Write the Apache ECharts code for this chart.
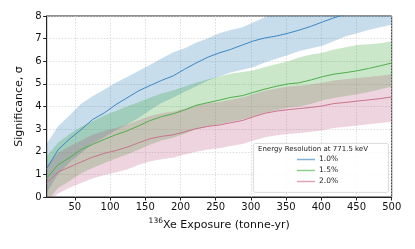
<!DOCTYPE html>
<html><head><meta charset="utf-8">
<script src="https://cdn.jsdelivr.net/npm/echarts@6/dist/echarts.min.js"></script>
<style>html,body{margin:0;padding:0;background:#fff}#c{width:415px;height:249px}</style>
</head><body><div id="c"></div>
<script>
const exposure = [10,26,43,59,75,92,108,124,141,157,173,190,206,222,239,255,271,288,304,320,337,353,369,386,402,418,435,451,467,484,500];
const xTicks = [50,100,150,200,250,300,350,400,450,500];
const yTicks = [0,1,2,3,4,5,6,7,8];
const seriesNames = ['1.0%','1.5%','2.0%'];
const sig10 = [1.25,2.08,2.58,2.98,3.42,3.72,4.08,4.38,4.70,4.93,5.15,5.36,5.65,5.92,6.18,6.37,6.52,6.72,6.90,7.03,7.12,7.24,7.38,7.55,7.74,7.92,8.08,8.25,8.45,8.62,8.80];
const up10  = [2.35,3.12,3.62,4.12,4.45,4.75,5.05,5.30,5.58,5.85,6.12,6.40,6.58,6.82,7.02,7.24,7.38,7.50,7.72,7.95,8.15,8.30,8.50,8.65,8.85,9.00,9.20,9.35,9.55,9.70,9.90];
const lo10  = [0.20,1.00,1.55,1.95,2.35,2.65,2.95,3.20,3.50,3.85,4.15,4.40,4.65,4.88,5.15,5.32,5.50,5.62,5.75,5.95,6.12,6.28,6.45,6.58,6.68,6.90,7.10,7.24,7.38,7.50,7.61];
const sig15 = [0.83,1.42,1.75,2.10,2.32,2.55,2.75,2.92,3.15,3.38,3.55,3.68,3.85,4.05,4.17,4.28,4.40,4.48,4.63,4.77,4.90,5.00,5.05,5.18,5.32,5.43,5.50,5.58,5.68,5.80,5.92];
const up15  = [1.80,2.40,2.80,3.10,3.35,3.60,3.80,4.00,4.20,4.40,4.58,4.72,4.88,5.05,5.20,5.32,5.45,5.52,5.60,5.75,5.88,6.00,6.18,6.30,6.38,6.52,6.62,6.72,6.75,6.80,6.88];
const lo15  = [-0.20,0.40,0.72,1.05,1.28,1.50,1.70,1.88,2.10,2.32,2.50,2.62,2.80,3.00,3.12,3.22,3.33,3.42,3.57,3.72,3.85,3.95,4.00,4.12,4.28,4.38,4.46,4.54,4.64,4.76,4.88];
const sig20 = [0.62,1.10,1.33,1.55,1.76,1.93,2.05,2.20,2.40,2.58,2.68,2.75,2.88,3.02,3.12,3.18,3.28,3.38,3.55,3.70,3.80,3.86,3.91,3.96,4.03,4.13,4.18,4.24,4.29,4.35,4.42];
const up20  = [1.40,1.95,2.25,2.50,2.75,2.92,3.05,3.20,3.40,3.58,3.70,3.78,3.90,4.04,4.14,4.20,4.30,4.40,4.55,4.70,4.80,4.88,4.92,4.98,5.05,5.15,5.20,5.26,5.30,5.36,5.42];
const lo20  = [-0.30,0.15,0.42,0.62,0.82,0.97,1.08,1.22,1.42,1.58,1.67,1.75,1.88,2.00,2.10,2.15,2.25,2.34,2.50,2.64,2.73,2.78,2.83,2.88,2.95,3.05,3.10,3.16,3.21,3.27,3.33];

const lineColors = ['#3d86c2','#4fae4a','#c8748c'];
const legendColors = ['#7fb0d8','#8fcd8a','#dda4b4'];
const bandColors = ['rgba(31,119,180,0.25)','rgba(44,160,44,0.25)','rgba(185,85,125,0.25)'];
const groups = [[sig10,up10,lo10],[sig15,up15,lo15],[sig20,up20,lo20]];

const series = [];
groups.forEach((g,i)=>{
  const [mid,up,lo] = g;
  series.push({type:'custom',name:'band'+i,silent:true,z:1,clip:true,
    data:[[exposure[0],up[0]]],
    renderItem:(params,api)=>{
      const pts=[];
      for(let k=0;k<exposure.length;k++) pts.push(api.coord([exposure[k],up[k]]));
      for(let k=exposure.length-1;k>=0;k--) pts.push(api.coord([exposure[k],lo[k]]));
      const cs=params.coordSys;
      return {type:'polygon',shape:{points:pts},style:{fill:bandColors[i],stroke:null},
        clipPath:{type:'rect',shape:{x:cs.x,y:cs.y,width:cs.width,height:cs.height}}};
    }});
});
groups.forEach((g,i)=>{
  series.push({type:'line',name:seriesNames[i],data:exposure.map((x,k)=>[x,g[0][k]]),clip:true,
    symbol:'none',lineStyle:{color:lineColors[i],width:1},itemStyle:{color:legendColors[i]},z:3});
});

const chart = echarts.init(document.getElementById('c'),null,{renderer:'canvas'});
const F = 'DejaVu Sans';
chart.setOption({
  animation:false,
  backgroundColor:'#fff',
  textStyle:{fontFamily:F},
  grid:{left:46.7,right:23.3,top:16,bottom:52,show:true,borderColor:'#222',borderWidth:1,backgroundColor:'#fff',containLabel:false},
  xAxis:{type:'value',min:10,max:500,
    name:'{sup|136}Xe Exposure (tonne-yr)',nameLocation:'middle',nameGap:20,
    nameTextStyle:{fontFamily:F,fontSize:11,color:'#111',rich:{sup:{fontFamily:F,fontSize:7.5,verticalAlign:'top',padding:[0,0,8,0],color:'#111'}}},
    axisLine:{show:true,onZero:false,lineStyle:{color:'#222',width:1}},
    axisTick:{show:true,length:3.5,inside:false,customValues:xTicks,lineStyle:{color:'#222'}},
    axisLabel:{customValues:xTicks,fontFamily:F,fontSize:10,color:'#111',margin:5},
    splitLine:{show:true,lineStyle:{color:'#d0d0d0',type:[1.5,1.5],width:0.7}}},
  yAxis:{type:'value',min:0,max:8,interval:1,
    name:'Significance, σ',nameLocation:'middle',nameGap:22,nameRotate:90,
    nameTextStyle:{fontFamily:F,fontSize:11,color:'#111'},
    axisLine:{show:true,lineStyle:{color:'#222',width:1}},
    axisTick:{show:true,length:3.5,inside:false,lineStyle:{color:'#222'}},
    axisLabel:{fontFamily:F,fontSize:10,color:'#111',margin:5,formatter:v=>yTicks.includes(v)?String(v):''},
    splitLine:{show:true,lineStyle:{color:'#d0d0d0',type:[1.5,1.5],width:0.7}}},
  legend:{data:seriesNames,orient:'vertical',left:297,top:155.5,itemWidth:18,itemHeight:1.5,itemGap:3,icon:'rect',z:100,padding:0,
    textStyle:{fontFamily:F,fontSize:7.5,color:'#222',padding:[0,0,0,-1],lineHeight:8},selectedMode:false},
  graphic:[
    {type:'rect',left:253,top:143,shape:{width:135,height:49,r:2},style:{fill:'rgba(255,255,255,0.85)',stroke:'#d0d0d0',lineWidth:0.8},z:50},
    {type:'text',left:258,top:145.5,style:{text:'Energy Resolution at 771.5 keV',font:'7px "DejaVu Sans"',fill:'#222'},z:51}
  ],
  series:series
});
</script></body></html>
